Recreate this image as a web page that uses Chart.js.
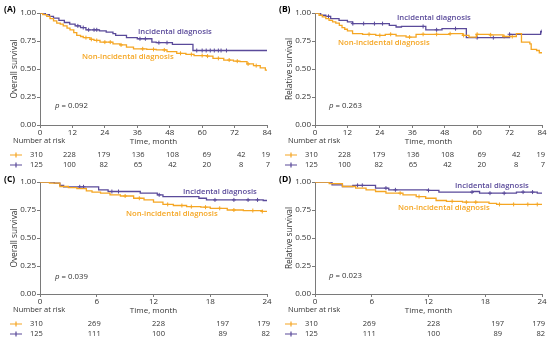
<!DOCTYPE html>
<html>
<head>
<meta charset="utf-8">
<script src="https://cdn.jsdelivr.net/npm/chart.js@4.4.0/dist/chart.umd.min.js"></script>
<style>
  body { margin: 0; background: #fff; width: 550px; height: 345px; position: relative; overflow: hidden; }
  .panel { position: absolute; width: 275px; height: 176px; }
</style>
</head>
<body>
<div class="panel" style="left:0;top:0"><canvas id="chartA" width="275" height="176"></canvas></div>
<div class="panel" style="left:275px;top:0"><canvas id="chartB" width="275" height="176"></canvas></div>
<div class="panel" style="left:0;top:169px"><canvas id="chartC" width="275" height="176"></canvas></div>
<div class="panel" style="left:275px;top:169px"><canvas id="chartD" width="275" height="176"></canvas></div>
<script>
// ---- data ----
// (A) overall survival, 84 months
var timeA_non = [0, 1, 2.5, 3.7, 5, 6.2, 7.5, 8.6, 10, 11.1, 12.5, 13.6, 15, 16, 18.5, 20, 22.2, 27, 29.6, 32, 34.6, 39.5, 43, 47, 50.6, 54, 57, 61.8, 64, 68, 71.6, 74, 76.6, 79, 81.5, 83.4, 84];
var survA_non = [1, 0.985, 0.97, 0.95, 0.93, 0.91, 0.9, 0.885, 0.865, 0.85, 0.825, 0.8, 0.79, 0.78, 0.765, 0.755, 0.74, 0.725, 0.715, 0.695, 0.68, 0.675, 0.67, 0.655, 0.64, 0.63, 0.62, 0.615, 0.595, 0.58, 0.57, 0.565, 0.545, 0.53, 0.51, 0.49, 0.49];
var timeA_inc = [0, 2, 3.5, 5, 7, 9, 11, 13, 15, 17, 22, 24.5, 27, 28, 32, 36, 41.4, 43, 49, 56.6, 84];
var survA_inc = [1, 0.985, 0.97, 0.955, 0.935, 0.915, 0.9, 0.885, 0.87, 0.85, 0.84, 0.83, 0.815, 0.8, 0.78, 0.77, 0.74, 0.735, 0.72, 0.665, 0.665];
var censA_non = [17, 19, 21, 24, 26, 30, 38, 42, 46, 52, 56, 60, 62, 66, 70, 73, 77, 80];
var censA_inc = [14, 16, 18, 20, 21, 37, 39, 44, 47, 58, 60, 61.5, 63, 64.5, 66, 67, 69];

// (B) relative survival, 84 months
var timeB_non = [0, 1.5, 2.7, 4, 5.2, 6.5, 7.7, 9, 10, 11, 12, 13.9, 17.6, 22.5, 26, 30, 33.7, 37.4, 49.8, 54.7, 57, 59.7, 64.6, 69.6, 74.5, 76.4, 79.5, 80, 82, 83, 84];
var survB_non = [1, 0.98, 0.965, 0.95, 0.935, 0.92, 0.91, 0.89, 0.87, 0.855, 0.84, 0.815, 0.81, 0.8, 0.81, 0.795, 0.785, 0.81, 0.815, 0.8, 0.785, 0.81, 0.805, 0.79, 0.815, 0.74, 0.725, 0.675, 0.665, 0.645, 0.645];
var timeB_inc = [0, 2.1, 4, 5.8, 8.9, 12, 13.9, 27.5, 30, 32, 41, 47, 56, 72, 83.5, 84];
var survB_inc = [1, 0.98, 0.97, 0.95, 0.935, 0.92, 0.905, 0.89, 0.875, 0.88, 0.85, 0.86, 0.78, 0.81, 0.835, 0.835];
var censB_non = [20, 24, 28, 35, 40, 45, 50, 55, 60, 65, 70, 73];
var censB_inc = [5, 14, 18, 22, 25, 40, 45, 52, 60, 66, 72, 84];

// (C) overall survival, 24 months
var timeC_non = [0, 1, 2.1, 3, 3.9, 4.9, 5.5, 6.4, 7.4, 8.5, 9.9, 11, 12, 13, 14.1, 15.5, 17, 18, 19.8, 21.5, 23.5, 24];
var survC_non = [1, 0.99, 0.96, 0.95, 0.94, 0.92, 0.91, 0.9, 0.885, 0.875, 0.855, 0.84, 0.82, 0.8, 0.79, 0.78, 0.775, 0.765, 0.75, 0.745, 0.737, 0.737];
var timeC_inc = [0, 1.5, 2.1, 2.5, 6.2, 7.2, 10.6, 12.4, 13, 16.8, 17.6, 23.6, 24];
var survC_inc = [1, 0.99, 0.97, 0.957, 0.93, 0.915, 0.9, 0.885, 0.87, 0.855, 0.84, 0.835, 0.835];
var censC_non = [9, 10.5, 13.5, 15, 16, 17.5, 19, 20.5, 22.5, 23.5];
var censC_inc = [4.2, 4.6, 7.6, 8.3, 12.6, 18.5, 20.5, 22, 23];

// (D) relative survival, 24 months
var timeD_non = [0, 1.5, 2.9, 4.3, 5.4, 6.4, 7.5, 9.3, 10.7, 11.7, 12.8, 13.9, 15.6, 18.4, 19.2, 24];
var survD_non = [1, 0.985, 0.96, 0.945, 0.93, 0.915, 0.9, 0.885, 0.87, 0.855, 0.835, 0.827, 0.82, 0.81, 0.8, 0.8];
var timeD_inc = [0, 1.8, 2.9, 4, 6.4, 7.8, 12, 13.1, 16.7, 17.4, 21.3, 23.5, 24];
var survD_inc = [1, 0.975, 0.96, 0.97, 0.945, 0.93, 0.925, 0.91, 0.915, 0.9, 0.91, 0.9, 0.9];
var censD_non = [9, 11, 14.5, 16, 17, 19.5, 21, 22.5, 23.5];
var censD_inc = [4.5, 5, 7.5, 8.5, 12, 16.6, 18.5, 20, 22, 23];

// number at risk
var riskTimes84 = [0, 12, 24, 36, 48, 60, 72, 84];
var risk84_non = [310, 228, 179, 136, 108, 69, 42, 19];
var risk84_inc = [125, 100, 82, 65, 42, 20, 8, 7];
var riskTimes24 = [0, 6, 12, 18, 24];
var risk24_non = [310, 269, 228, 197, 179];
var risk24_inc = [125, 111, 100, 89, 82];

var pValues = ['0.092', '0.263', '0.039', '0.023'];

// ---- styling ----
var ORANGE = '#f5a623';
var PURPLE = '#5a4a9a';
var AXIS = '#7a7a7a';
var TEXT = '#333333';
var FAMILY = '"Open Sans", sans-serif';

function toPoints(ts, ss) {
    return ts.map(function(t, i) { return {x: t, y: ss[i]}; });
}

// survival value of the step curve at a censoring time
function survAt(t, ts, ss) {
    var v = ss[0];
    for (var i = 0; i < ts.length; i++) {
        if (ts[i] <= t) v = ss[i];
    }
    return v;
}

function censorPoints(cs, ts, ss) {
    return cs.map(function(t) { return {x: t, y: survAt(t, ts, ss)}; });
}

function drawMarker(ctx, x, y, color) {
    ctx.strokeStyle = color;
    ctx.lineWidth = 1.2;
    ctx.beginPath();
    ctx.moveTo(x - 6, y); ctx.lineTo(x + 6, y);
    ctx.moveTo(x, y - 2.5); ctx.lineTo(x, y + 2.5);
    ctx.stroke();
}

function kmPlugin(cfg) {
    return {
        id: 'km' + cfg.letter,
        afterDraw: function(chart) {
            var ctx = chart.ctx;
            var area = chart.chartArea;
            var xs = chart.scales.x;
            ctx.save();
            ctx.textBaseline = 'middle';

            // panel letter
            ctx.fillStyle = '#000';
            ctx.font = 'bold 8.5px ' + FAMILY;
            ctx.textAlign = 'left';
            ctx.fillText('(' + cfg.letter + ')', 4, cfg.letterY);

            // curve labels
            ctx.font = '600 7.7px ' + FAMILY;
            ctx.fillStyle = PURPLE;
            ctx.fillText('Incidental diagnosis', cfg.incLabel[0], cfg.incLabel[1]);
            ctx.fillStyle = ORANGE;
            ctx.fillText('Non-incidental diagnosis', cfg.nonLabel[0], cfg.nonLabel[1]);

            // p value
            ctx.fillStyle = TEXT;
            ctx.font = 'italic 7.8px ' + FAMILY;
            ctx.fillText('p', cfg.pPos[0], cfg.pPos[1]);
            var pw = ctx.measureText('p').width;
            ctx.font = '7.8px ' + FAMILY;
            ctx.fillText(' = ' + cfg.p, cfg.pPos[0] + pw, cfg.pPos[1]);

            // risk table
            ctx.font = '7.5px ' + FAMILY;
            ctx.fillText('Number at risk', 13, 141);
            var rows = [[cfg.riskNon, ORANGE, 155], [cfg.riskInc, PURPLE, 165]];
            rows.forEach(function(row) {
                drawMarker(ctx, 16, row[2], row[1]);
                ctx.fillStyle = TEXT;
                cfg.riskTimes.forEach(function(t, i) {
                    var label = String(row[0][i]);
                    var px = xs.getPixelForValue(t);
                    var cx = cfg.tableX0 + (px - area.left) * cfg.tableStretch;
                    var w = ctx.measureText(label).width;
                    if (i === 0) {
                        ctx.textAlign = 'left';
                        ctx.fillText(label, 30, row[2]);
                    } else if (cx + w / 2 > area.right + 3) {
                        ctx.textAlign = 'right';
                        ctx.fillText(label, area.right + 3, row[2]);
                    } else {
                        ctx.textAlign = 'center';
                        ctx.fillText(label, cx, row[2]);
                    }
                });
                ctx.textAlign = 'left';
            });
            ctx.restore();
        }
    };
}

function makeChart(id, cfg) {
    var font = {family: FAMILY, size: 8};
    new Chart(document.getElementById(id), {
        type: 'line',
        data: {
            datasets: [
                {data: toPoints(cfg.tNon, cfg.sNon), borderColor: ORANGE, borderWidth: 1.3, stepped: 'before', pointRadius: 0, fill: false},
                {data: toPoints(cfg.tInc, cfg.sInc), borderColor: PURPLE, borderWidth: 1.3, stepped: 'before', pointRadius: 0, fill: false},
                {data: censorPoints(cfg.cNon, cfg.tNon, cfg.sNon), showLine: false, pointStyle: 'cross', pointRadius: 2, borderColor: ORANGE, borderWidth: 1},
                {data: censorPoints(cfg.cInc, cfg.tInc, cfg.sInc), showLine: false, pointStyle: 'cross', pointRadius: 2, borderColor: PURPLE, borderWidth: 1}
            ]
        },
        options: {
            responsive: false,
            animation: false,
            events: [],
            layout: {padding: {top: 13, right: 8, left: 0, bottom: 29}},
            plugins: {legend: {display: false}, tooltip: {enabled: false}},
            scales: {
                x: {
                    type: 'linear', min: 0, max: cfg.xMax,
                    ticks: {stepSize: cfg.xStep, font: font, color: TEXT, padding: 0, maxRotation: 0},
                    grid: {drawOnChartArea: false, tickLength: 3, color: AXIS},
                    border: {color: AXIS},
                    title: {display: true, text: 'Time, month', font: font, color: TEXT, padding: 0},
                    afterFit: function(s) { s.height = 22; }
                },
                y: {
                    min: 0, max: 1,
                    ticks: {stepSize: 0.25, font: font, color: TEXT, padding: 1, callback: function(v) { return v.toFixed(2); }},
                    grid: {drawOnChartArea: false, tickLength: 3, color: AXIS},
                    border: {color: AXIS},
                    title: {display: true, text: cfg.yTitle, font: {family: FAMILY, size: 8.3}, color: TEXT, padding: {top: 10, bottom: 0}},
                    afterFit: function(s) { s.width = 40; }
                }
            }
        },
        plugins: [kmPlugin(cfg)]
    });
}

makeChart('chartA', {
    letter: 'A', letterY: 10, yTitle: 'Overall survival', xMax: 84, xStep: 12,
    tNon: timeA_non, sNon: survA_non, tInc: timeA_inc, sInc: survA_inc, cNon: censA_non, cInc: censA_inc,
    incLabel: [138, 32], nonLabel: [82, 57], pPos: [55, 106], p: pValues[0],
    riskTimes: riskTimes84, riskNon: risk84_non, riskInc: risk84_inc, tableX0: 35, tableStretch: 1.06
});
makeChart('chartB', {
    letter: 'B', letterY: 10, yTitle: 'Relative survival', xMax: 84, xStep: 12,
    tNon: timeB_non, sNon: survB_non, tInc: timeB_inc, sInc: survB_inc, cNon: censB_non, cInc: censB_inc,
    incLabel: [122, 18], nonLabel: [63, 43], pPos: [54, 106], p: pValues[1],
    riskTimes: riskTimes84, riskNon: risk84_non, riskInc: risk84_inc, tableX0: 35, tableStretch: 1.06
});
makeChart('chartC', {
    letter: 'C', letterY: 11, yTitle: 'Overall survival', xMax: 24, xStep: 6,
    tNon: timeC_non, sNon: survC_non, tInc: timeC_inc, sInc: survC_inc, cNon: censC_non, cInc: censC_inc,
    incLabel: [183, 23], nonLabel: [126, 45], pPos: [55, 108], p: pValues[2],
    riskTimes: riskTimes24, riskNon: risk24_non, riskInc: risk24_inc, tableX0: 30, tableStretch: 1.132
});
makeChart('chartD', {
    letter: 'D', letterY: 11, yTitle: 'Relative survival', xMax: 24, xStep: 6,
    tNon: timeD_non, sNon: survD_non, tInc: timeD_inc, sInc: survD_inc, cNon: censD_non, cInc: censD_inc,
    incLabel: [180, 17], nonLabel: [123, 39], pPos: [54, 107], p: pValues[3],
    riskTimes: riskTimes24, riskNon: risk24_non, riskInc: risk24_inc, tableX0: 30, tableStretch: 1.132
});
</script>
</body>
</html>
